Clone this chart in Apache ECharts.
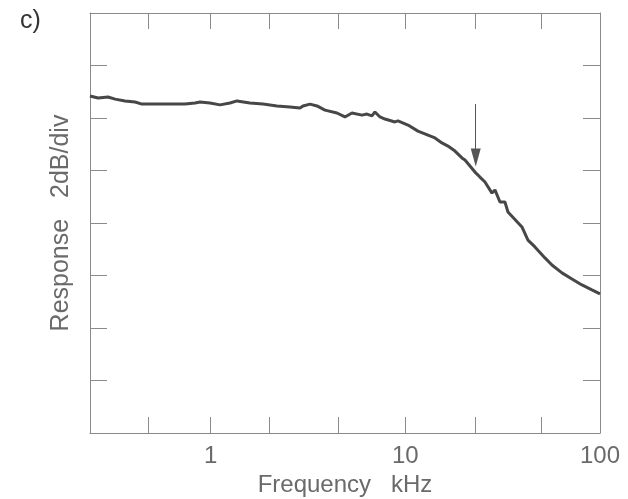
<!DOCTYPE html>
<html>
<head>
<meta charset="utf-8">
<script src="https://cdn.jsdelivr.net/npm/echarts@6/dist/echarts.min.js"></script>
<style>
  html, body { margin: 0; padding: 0; background: #fff; }
  #chart { width: 628px; height: 499px; }
</style>
</head>
<body>
<div id="chart"></div>
<script>
// frequency (kHz)
const freq = [0.24, 0.264, 0.297, 0.323, 0.363, 0.409, 0.444, 0.50, 0.583, 0.738, 0.831, 0.882, 0.992,
  1.117, 1.257, 1.365, 1.592, 1.857, 2.191, 2.556, 2.876, 2.981, 3.238, 3.517, 3.866, 4.455, 4.896,
  5.321, 5.988, 6.353, 6.739, 6.982, 7.409, 7.858, 8.846, 9.166, 10.32, 11.61, 13.07, 14.20, 15.42,
  16.56, 17.99, 19.54, 20.25, 22.79, 24.17, 25.65, 27.86, 28.87, 30.63, 32.49, 33.67, 39.72, 42.65,
  46.32, 52.15, 56.64, 63.77, 71.76, 80.76, 90.89, 100]
// response in dB (axis runs 0..16, 2 dB per division)
const resp = [12.84, 12.76, 12.80, 12.72, 12.65, 12.61, 12.53, 12.53, 12.53, 12.53, 12.57, 12.61, 12.57,
  12.50, 12.57, 12.65, 12.57, 12.53, 12.46, 12.42, 12.38, 12.46, 12.53, 12.46, 12.30, 12.19, 12.04,
  12.19, 12.11, 12.15, 12.08, 12.23, 12.04, 11.96, 11.85, 11.89, 11.73, 11.50, 11.35, 11.24, 11.05,
  10.93, 10.74, 10.48, 10.40, 9.94, 9.75, 9.56, 9.14, 9.26, 8.80, 8.80, 8.42, 7.85, 7.35,
  7.09, 6.67, 6.40, 6.10, 5.87, 5.64, 5.45, 5.30]

const xTicks = [0.48, 1, 2, 4.5, 10, 23, 50, 100]
const xLabels = [1, 10, 100]
// arrow marking the corner frequency: [freq, from dB, to dB]
const arrow = [23, 12.53, 10.5]

const textColor = '#6a6a6a'
const frameColor = '#8a8a8a'

const myChart = echarts.init(document.getElementById('chart'))

function xAxisBase () {
  return {
    type: 'log',
    min: 0.24,
    max: 100,
    position: 'bottom',
    axisLine: { show: true, onZero: false, lineStyle: { color: frameColor, width: 1 } },
    axisTick: { show: true, inside: true, length: 16, customValues: xTicks.slice(), lineStyle: { color: frameColor } },
    splitLine: { show: false },
    minorTick: { show: false }
  }
}
function yAxisBase () {
  return {
    type: 'value',
    min: 0,
    max: 16,
    interval: 2,
    axisLine: { show: true, onZero: false, lineStyle: { color: frameColor, width: 1 } },
    axisTick: { show: true, inside: true, length: 17, lineStyle: { color: frameColor } },
    axisLabel: { show: false },
    splitLine: { show: false }
  }
}

const curve = freq.map((f, i) => [f, resp[i]])

const option = {
  animation: false,
  title: {
    text: 'c)',
    left: 15,
    top: 4,
    textStyle: { fontFamily: 'Liberation Sans', fontSize: 25, fontWeight: 'normal', color: '#333' }
  },
  grid: [
    { left: 90, right: 28, top: 13, bottom: 66, outerBoundsMode: 'none', containLabel: false },
    // thin strip whose bottom edge is the top of the frame; its axis ticks hang down into the plot
    { left: 90, right: 28, top: 0, height: 13, outerBoundsMode: 'none', containLabel: false }
  ],
  xAxis: [
    Object.assign(xAxisBase(), {
      gridIndex: 0,
      name: 'Frequency   kHz',
      nameLocation: 'center',
      nameGap: 40,
      nameTextStyle: { fontFamily: 'Liberation Sans', fontSize: 24, color: textColor },
      axisLabel: {
        show: true,
        customValues: xLabels,
        margin: 11,
        fontFamily: 'Liberation Sans',
        fontSize: 24,
        color: textColor
      }
    }),
    Object.assign(xAxisBase(), {
      gridIndex: 1,
      axisTick: { show: true, inside: false, length: 16, customValues: xTicks.slice(), lineStyle: { color: frameColor } },
      axisLabel: {
        show: true,
        customValues: xLabels.slice(),
        margin: 20,
        fontSize: 12,
        color: 'rgba(255,255,255,0)'
      }
    })
  ],
  yAxis: [
    Object.assign(yAxisBase(), {
      gridIndex: 0,
      position: 'left',
      name: 'Response   2dB/div',
      nameLocation: 'center',
      nameGap: 16,
      nameTextStyle: { fontFamily: 'Liberation Sans', fontSize: 25, color: textColor }
    }),
    Object.assign(yAxisBase(), { gridIndex: 0, position: 'right' }),
    Object.assign(yAxisBase(), { gridIndex: 1, show: false })
  ],
  series: [
    {
      name: 'response',
      type: 'line',
      xAxisIndex: 0,
      yAxisIndex: 0,
      showSymbol: false,
      smooth: false,
      lineStyle: { color: '#474747', width: 3 },
      data: curve,
      markLine: {
        silent: true,
        symbol: ['none', 'triangle'],
        symbolSize: [10, 18],
        label: { show: false },
        lineStyle: { color: '#555', width: 1, type: 'solid' },
        itemStyle: { color: '#444' },
        data: [[{ coord: [arrow[0], arrow[1]] }, { coord: [arrow[0], arrow[2]] }]]
      }
    },
    // invisible copy on the strip grid so its axis has a data extent
    {
      name: 'frame',
      type: 'line',
      xAxisIndex: 1,
      yAxisIndex: 2,
      silent: true,
      showSymbol: false,
      lineStyle: { opacity: 0 },
      data: curve
    }
  ]
}

myChart.setOption(option)
</script>
</body>
</html>
